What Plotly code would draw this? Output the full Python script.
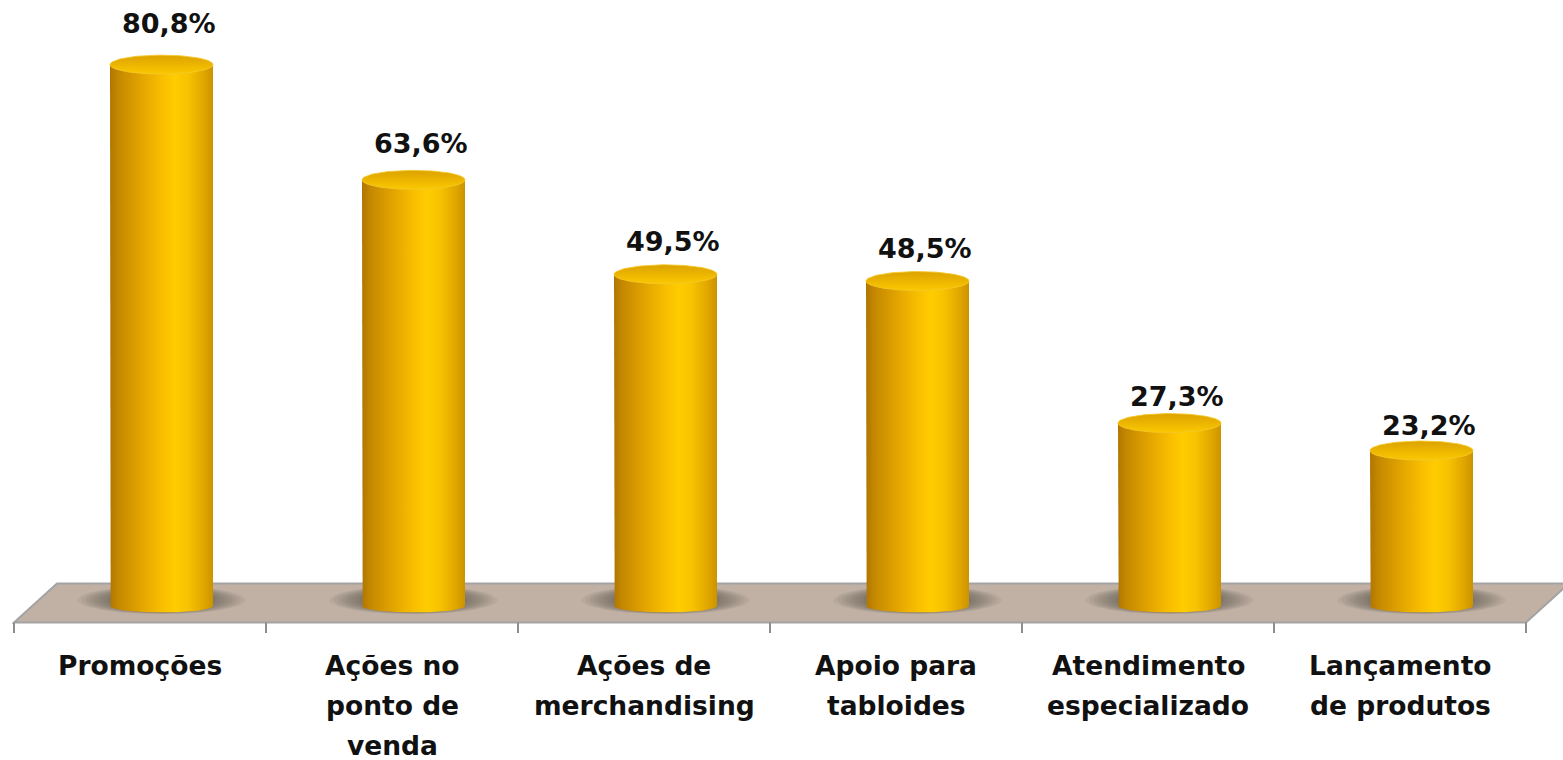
import numpy as np
import plotly.graph_objects as go

# ---------------- data ----------------
categories = [
    "Promoções",
    "Ações no<br>ponto de<br>venda",
    "Ações de<br>merchandising",
    "Apoio para<br>tabloides",
    "Atendimento<br>especializado",
    "Lançamento<br>de produtos",
]
values = [80.8, 63.6, 49.5, 48.5, 27.3, 23.2]
value_labels = ["80,8%", "63,6%", "49,5%", "48,5%", "27,3%", "23,2%"]

# ---------------- geometry / style ----------------
W, H = 1563, 760
ZERO_PX = 606.0          # pixel row of value 0
PX_PER_UNIT = 6.70       # pixels per percentage point
BAR0_PX = 161.5          # pixel column of first bar centre
CAT_PX = 252.0           # pixels per category


def py(px):
    return (ZERO_PX - px) / PX_PER_UNIT


y_range = [py(H), py(0)]
x_range = [-BAR0_PX / CAT_PX, (W - BAR0_PX) / CAT_PX]

R = 51.5 / CAT_PX               # cylinder half width (x units)
RY_TOP = 9.5 / PX_PER_UNIT      # top ellipse semi-minor (y units)
RY_BOT = 6.5 / PX_PER_UNIT      # bottom arc semi-minor
DEPTH = 21.5 / CAT_PX           # floor depth offset in x
FLOOR_TOP = py(583.5)
FLOOR_BOT = py(622.5)
TICK_BOT = py(633)

FONT = "DejaVu Sans"
TXT = "#111111"

body_cs = [
    [0.0, "#B07600"], [0.08, "#C48800"], [0.3, "#E2A400"], [0.5, "#F8BE00"],
    [0.63, "#FFCC00"], [0.76, "#F7C200"], [0.9, "#E2A800"], [1.0, "#CC9300"],
]
top_cs = [[0.0, "#FAC800"], [0.3, "#F2BD00"], [1.0, "#DCA200"]]

fig = go.Figure()
shapes = []
annotations = []

# floor
fx = [-0.5 - DEPTH, len(categories) - 0.5 - DEPTH,
      len(categories) - 0.5 + DEPTH, -0.5 + DEPTH]
fy = [FLOOR_BOT, FLOOR_BOT, FLOOR_TOP, FLOOR_TOP]
path = "M " + " L ".join(f"{a},{b}" for a, b in zip(fx, fy)) + " Z"
shapes.append(dict(type="path", path=path, xref="x", yref="y", layer="below",
                   fillcolor="#C1B1A5", line=dict(color="#A3A3A3", width=2)))

# soft shadows under bars (stacked translucent ellipses)
n_sh = 14
for i, _ in enumerate(values):
    for k in range(n_sh):
        f = 1.0 - k * 0.05
        hw = 84 / CAT_PX * f
        hh = 14 / PX_PER_UNIT * (0.6 + 0.4 * f)
        cy = py(600)
        shapes.append(dict(type="circle", xref="x", yref="y", layer="below",
                           x0=i - hw, x1=i + hw, y0=cy - hh, y1=cy + hh,
                           fillcolor="rgba(60,50,45,0.07)", line=dict(width=0)))

# tick marks on the front edge
for k in range(len(categories) + 1):
    xt = -0.5 - DEPTH + k
    shapes.append(dict(type="line", xref="x", yref="y", x0=xt, x1=xt,
                       y0=FLOOR_BOT, y1=TICK_BOT,
                       line=dict(color="#8E8E8E", width=2)))

# cylinders
t_bot = np.linspace(np.pi, 2 * np.pi, 80)
t_top = np.linspace(0, 2 * np.pi, 120)
for i, v in enumerate(values):
    xs = [i - R] + list(i + R * np.cos(t_bot)) + [i + R, i - R]
    ys = [v] + list(RY_BOT * np.sin(t_bot)) + [v, v]
    fig.add_trace(go.Scatter(
        x=xs, y=ys, mode="lines", line=dict(width=0), fill="toself",
        fillgradient=dict(type="horizontal", colorscale=body_cs),
        hoverinfo="skip", showlegend=False))
    fig.add_trace(go.Scatter(
        x=i + R * np.cos(t_top), y=v + RY_TOP * np.sin(t_top),
        mode="lines", line=dict(width=1, color="rgba(245,200,40,0.9)"),
        fill="toself",
        fillgradient=dict(type="vertical", colorscale=top_cs),
        hoverinfo="skip", showlegend=False))
    # value label
    annotations.append(dict(
        x=i, y=v, xref="x", yref="y", text=value_labels[i], showarrow=False,
        xshift=7, yshift=19 + 0.28 * v, yanchor="middle",
        font=dict(family=FONT, size=27, color=TXT, weight="bold")))

# category labels (one annotation per line for Excel-like spacing)
for i, cat in enumerate(categories):
    for j, line in enumerate(cat.split("<br>")):
        annotations.append(dict(
            x=i - DEPTH, y=py(665 + 40 * j), xref="x", yref="y",
            text=line, showarrow=False, yanchor="middle",
            font=dict(family=FONT, size=26.5, color=TXT, weight="bold")))

fig.update_layout(
    width=W, height=H, margin=dict(l=0, r=0, t=0, b=0),
    paper_bgcolor="white", plot_bgcolor="rgba(0,0,0,0)",
    xaxis=dict(range=x_range, visible=False, fixedrange=True),
    yaxis=dict(range=y_range, visible=False, fixedrange=True),
    shapes=shapes, annotations=annotations, showlegend=False,
)

fig.write_html("out.html")
